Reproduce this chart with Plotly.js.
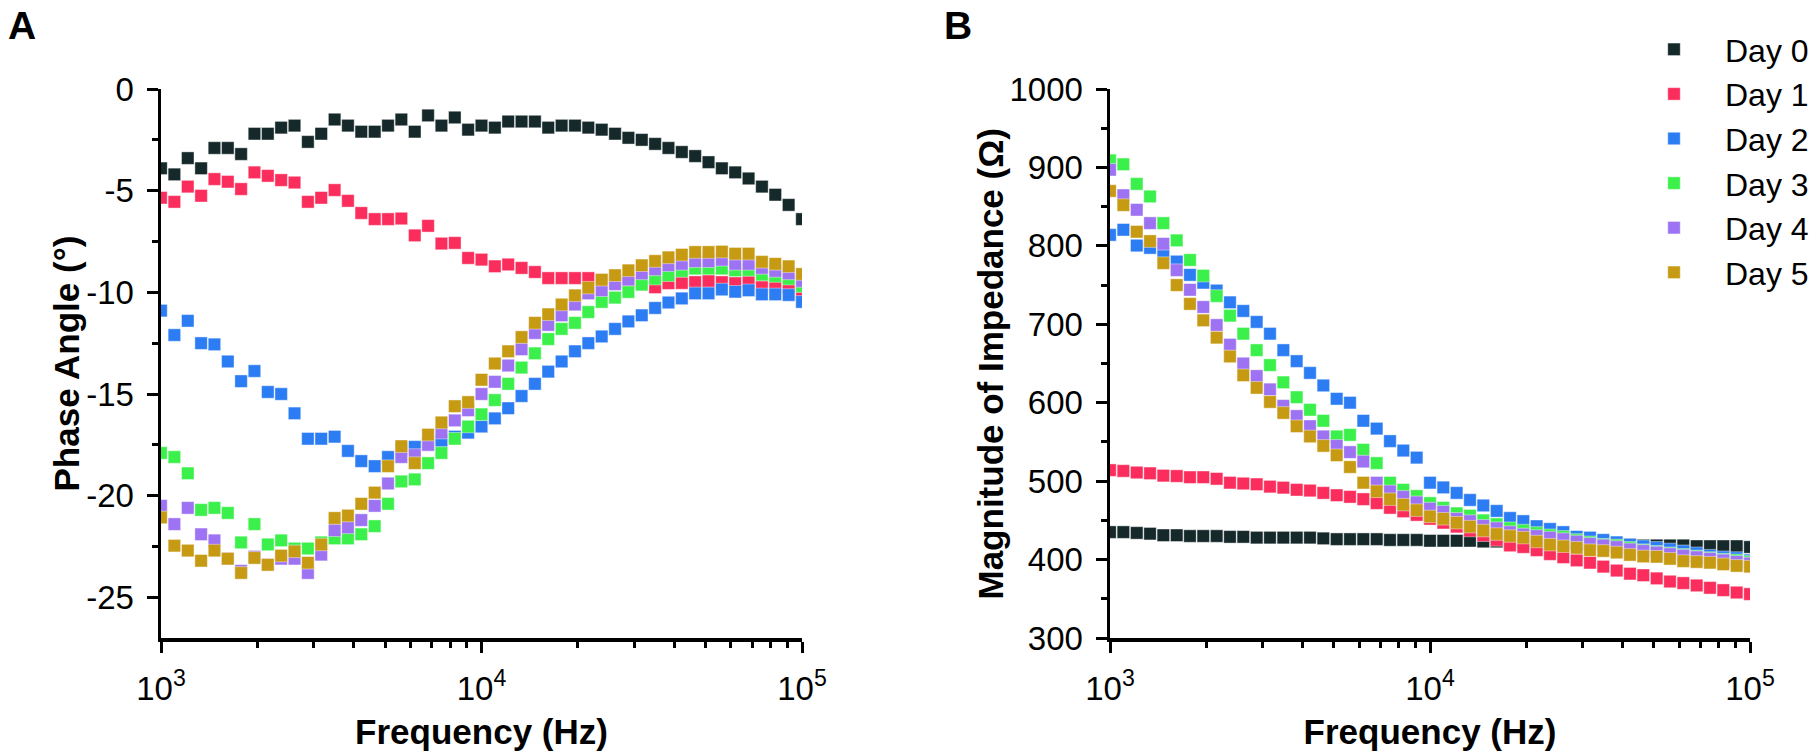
<!DOCTYPE html>
<html>
<head>
<meta charset="utf-8">
<script src="https://cdn.plot.ly/plotly-3.0.1.min.js"></script>
<style>
  html, body { margin: 0; padding: 0; background: #ffffff; }
  #chart { width: 1820px; height: 755px; }
</style>
</head>
<body>
<div id="chart"></div>
<script>
// ---------------- DATA ----------------
const frequency = [1000, 1101, 1212, 1334, 1468, 1616, 1778, 1957, 2154, 2371, 2610, 2873, 3162, 3481, 3831, 4217, 4642, 5109, 5623, 6190, 6813, 7499, 8254, 9085, 10000, 11007, 12115, 13335, 14678, 16156, 17783, 19573, 21544, 23714, 26102, 28731, 31623, 34807, 38312, 42170, 46416, 51090, 56234, 61897, 68129, 74989, 82540, 90852, 100000];

const dayNames = ["Day 0", "Day 1", "Day 2", "Day 3", "Day 4", "Day 5"];
const dayColors = ["#15282a", "#fb2d5c", "#2c7df4", "#3cf04c", "#9d72f3", "#c79a14"];

// Panel A: Phase angle (degrees)
const phaseDay0 = [-3.9, -4.2, -3.4, -3.9, -2.9, -2.9, -3.2, -2.2, -2.2, -1.9, -1.8, -2.6, -2.2, -1.5, -1.8, -2.1, -2.1, -1.8, -1.5, -2.1, -1.3, -1.8, -1.4, -2.0, -1.8, -1.9, -1.6, -1.6, -1.6, -1.9, -1.8, -1.8, -1.9, -2.0, -2.2, -2.4, -2.5, -2.7, -2.9, -3.1, -3.3, -3.6, -3.9, -4.1, -4.4, -4.8, -5.2, -5.7, -6.4];
const phaseDay1 = [-5.35, -5.55, -4.8, -5.25, -4.43, -4.56, -4.92, -4.1, -4.27, -4.48, -4.6, -5.55, -5.35, -4.97, -5.5, -6.1, -6.4, -6.4, -6.37, -7.2, -6.73, -7.6, -7.57, -8.31, -8.39, -8.72, -8.63, -8.8, -9.0, -9.3, -9.3, -9.3, -9.3, -9.4, -9.45, -9.5, -9.6, -9.75, -9.55, -9.54, -9.5, -9.45, -9.5, -9.55, -9.5, -9.74, -9.74, -9.74, -10.05];
const phaseDay2 = [-10.9, -12.1, -11.4, -12.5, -12.56, -13.4, -14.37, -13.87, -14.9, -15.0, -15.95, -17.2, -17.2, -17.1, -17.8, -18.3, -18.55, -18.1, -17.7, -17.6, -17.5, -17.3, -17.1, -16.9, -16.6, -16.2, -15.7, -15.1, -14.5, -13.9, -13.4, -12.9, -12.5, -12.17, -11.8, -11.43, -11.13, -10.77, -10.5, -10.3, -10.05, -10.05, -9.86, -9.97, -9.9, -10.1, -10.1, -10.13, -10.47];
const phaseDay3 = [-17.9, -18.1, -18.9, -20.7, -20.6, -20.85, -22.3, -21.4, -22.4, -22.2, -22.6, -22.6, -22.3, -22.1, -22.1, -21.9, -21.5, -20.4, -19.3, -19.2, -18.4, -17.9, -17.2, -16.6, -16.0, -15.3, -14.5, -13.7, -13.0, -12.3, -11.8, -11.5, -10.97, -10.47, -10.26, -9.98, -9.62, -9.33, -9.16, -8.95, -8.83, -8.83, -8.83, -8.92, -8.9, -9.13, -9.2, -9.33, -9.7];
const phaseDay4 = [-20.5, -21.4, -20.6, -21.9, -22.2, -23.1, -23.7, -23.0, -23.4, -23.1, -23.1, -23.8, -22.9, -21.7, -21.56, -21.2, -20.5, -19.4, -18.1, -18.0, -17.5, -16.9, -16.3, -15.8, -15.0, -14.4, -13.6, -12.8, -12.0, -11.6, -11.13, -10.6, -10.05, -9.9, -9.6, -9.37, -9.07, -8.87, -8.67, -8.6, -8.47, -8.47, -8.4, -8.6, -8.6, -8.8, -8.95, -9.07, -9.44];
const phaseDay5 = [-21.07, -22.46, -22.7, -23.2, -22.7, -23.1, -23.8, -23.06, -23.4, -22.95, -22.74, -23.3, -22.4, -21.1, -20.98, -20.4, -19.85, -18.55, -17.57, -18.4, -17.0, -16.4, -15.6, -15.4, -14.3, -13.5, -12.9, -12.2, -11.5, -11.08, -10.6, -10.15, -9.77, -9.38, -9.16, -8.92, -8.67, -8.46, -8.28, -8.15, -8.02, -8.02, -8.0, -8.1, -8.1, -8.5, -8.6, -8.72, -9.1];

// Panel B: Magnitude of impedance (ohm)
const magDay0 = [435, 435, 434, 433, 431, 431, 430, 430, 430, 429, 429, 428, 428, 428, 428, 428, 427, 426, 426, 426, 426, 425, 425, 425, 424, 424, 424, 424, 423, 423, 422, 422, 421, 421, 420, 420, 420, 419, 419, 419, 418, 418, 418, 418, 417, 417, 417, 417, 416];
const magDay1 = [514, 513, 511, 510, 507, 506.5, 505, 505, 503, 498, 497, 496, 493, 491.7, 489, 488, 485, 482, 480, 477, 472, 466, 461.5, 457, 452, 447, 442, 437, 431, 425, 418, 416, 412, 407, 403, 399, 396, 391, 386, 382, 380, 376, 372, 370, 367, 364, 361, 358, 356];
const magDay2 = [814, 820.5, 800.4, 797.4, 790.5, 780, 763, 753, 743, 728, 717, 703, 688, 667, 653, 638, 622, 605, 600, 577, 567, 551, 539, 530, 498, 492, 485, 476, 469, 462, 453, 449, 442.5, 439, 435, 429, 428, 425, 422, 419, 417, 415, 413, 410.6, 408, 405, 403, 402, 399];
const magDay3 = [909, 904, 879, 863, 829, 807, 782, 762, 736, 711, 688, 667, 648, 626, 607, 591, 577, 557, 559, 540, 523, 498, 489, 481, 472, 466, 459, 456, 450, 445, 440, 437, 434, 431, 429, 425, 422, 419, 418, 415, 412, 410, 408, 406, 404, 402, 400, 399, 397];
const magDay4 = [897, 864.5, 846, 829, 802.6, 769, 744, 722, 699, 674, 650, 634, 617, 596, 583, 570, 557, 545, 537, 525, 498, 487, 480, 473, 465, 461, 452, 449, 443, 440, 435, 432, 430, 428, 426, 423, 420, 418, 416, 413, 411, 409, 407, 405, 403, 401, 399, 397, 395];
const magDay5 = [870, 852, 818, 806, 778, 750, 726, 705, 683, 659, 635, 619, 601, 587, 570, 557, 545, 533, 518, 498, 487, 477, 470, 463, 455, 452, 447, 442, 437, 432.5, 430, 428, 423, 419, 417, 415, 412, 411, 409, 406, 404, 403.6, 401, 398, 397, 396, 394, 392, 391];

const phaseTicks = [0, -5, -10, -15, -20, -25];
const magTicks = [300, 400, 500, 600, 700, 800, 900, 1000];
const freqTicks = [1000, 10000, 100000];
const freqTickText = ["10<sup>3</sup>", "10<sup>4</sup>", "10<sup>5</sup>"];

const xTitle = "Frequency (Hz)";
const phaseTitle = "Phase Angle (°)";
const magTitle = "Magnitude of Impedance (Ω)";

// ---------------- BUILD ----------------
const phaseSeries = [phaseDay0, phaseDay1, phaseDay2, phaseDay3, phaseDay4, phaseDay5];
const magSeries = [magDay0, magDay1, magDay2, magDay3, magDay4, magDay5];

const FONT = "Liberation Sans, Arial, Helvetica, sans-serif";
const W = 1820, H = 755;
const markerSize = 12.5;

const traces = [];
phaseSeries.forEach((ys, k) => {
  traces.push({
    type: "scatter", mode: "markers", x: frequency, y: ys,
    xaxis: "x", yaxis: "y", name: dayNames[k], showlegend: false,
    marker: { symbol: "square", size: markerSize, color: dayColors[k],
              line: { width: 0.6, color: "rgba(255,255,255,0.7)" } }
  });
});
magSeries.forEach((ys, k) => {
  traces.push({
    type: "scatter", mode: "markers", x: frequency, y: ys,
    xaxis: "x2", yaxis: "y2", name: dayNames[k], showlegend: true,
    marker: { symbol: "square", size: markerSize, color: dayColors[k],
              line: { width: 0.6, color: "rgba(255,255,255,0.7)" } }
  });
});

const minorFreq = [];
[1000, 10000].forEach(d => { for (let m = 2; m <= 9; m++) minorFreq.push(d * m); });

const yTop = 89, yBot = 638;
const yDomain = [1 - yBot / H, 1 - yTop / H];
const yMid = 1 - ((yTop + yBot) / 2) / H;

function xAxisCfg(left, right, anchor) {
  return {
    type: "log", range: [3, 5], domain: [left / W, right / W], anchor: anchor,
    showline: true, linecolor: "#000", linewidth: 3.5, mirror: false,
    showgrid: false, zeroline: false,
    ticks: "outside", ticklen: 11, tickwidth: 3, tickcolor: "#000",
    tickmode: "array", tickvals: freqTicks, ticktext: freqTickText,
    ticklabelstandoff: 8,
    tickfont: { family: FONT, size: 33, color: "#000" },
    minor: { tickmode: "array", tickvals: minorFreq, ticks: "outside", ticklen: 6, tickwidth: 3, tickcolor: "#000", showgrid: false },
    title: { text: "<b>" + xTitle + "</b>", font: { family: FONT, size: 35, color: "#000" }, standoff: 14 }
  };
}
function yAxisCfg(range, tickvals, minorDtick, anchor) {
  return {
    range: range, domain: yDomain, anchor: anchor,
    showline: true, linecolor: "#000", linewidth: 3.5, mirror: false,
    showgrid: false, zeroline: false,
    ticks: "outside", ticklen: 11, tickwidth: 3, tickcolor: "#000",
    tickmode: "array", tickvals: tickvals, ticktext: tickvals.map(v => String(v)),
    ticklabelstandoff: 6,
    tickfont: { family: FONT, size: 33, color: "#000" },
    minor: { dtick: minorDtick, ticks: "outside", ticklen: 6, tickwidth: 3, tickcolor: "#000", showgrid: false }
  };
}

const layout = {
  width: W, height: H,
  margin: { l: 0, r: 0, t: 0, b: 0, pad: 0 },
  paper_bgcolor: "#ffffff", plot_bgcolor: "#ffffff",
  font: { family: FONT, color: "#000" },
  xaxis: xAxisCfg(161, 802, "y"),
  yaxis: yAxisCfg([-27, 0], phaseTicks, 2.5, "x"),
  xaxis2: xAxisCfg(1110, 1750, "y2"),
  yaxis2: yAxisCfg([300, 1000], magTicks, 50, "x2"),
  showlegend: true,
  legend: {
    x: 1623 / W, y: 1 - 22 / H, xanchor: "left", yanchor: "top",
    bgcolor: "rgba(0,0,0,0)", borderwidth: 0,
    font: { family: FONT, size: 32, color: "#000" },
    itemwidth: 92, itemsizing: "trace", tracegroupgap: 0
  },
  annotations: [
    { text: "<b>A</b>", x: 6 / W, y: 1 - 2 / H, xref: "paper", yref: "paper", xanchor: "left", yanchor: "top",
      showarrow: false, font: { family: FONT, size: 39, color: "#000" } },
    { text: "<b>B</b>", x: 942 / W, y: 1 - 2 / H, xref: "paper", yref: "paper", xanchor: "left", yanchor: "top",
      showarrow: false, font: { family: FONT, size: 39, color: "#000" } },
    { text: "<b>" + phaseTitle + "</b>", textangle: -90, x: 66 / W, y: yMid, xref: "paper", yref: "paper",
      xanchor: "center", yanchor: "middle", showarrow: false, font: { family: FONT, size: 35, color: "#000" } },
    { text: "<b>" + magTitle + "</b>", textangle: -90, x: 990 / W, y: yMid, xref: "paper", yref: "paper",
      xanchor: "center", yanchor: "middle", showarrow: false, font: { family: FONT, size: 35, color: "#000" } }
  ]
};

Plotly.newPlot("chart", traces, layout, { displayModeBar: false, staticPlot: true });
</script>
</body>
</html>
